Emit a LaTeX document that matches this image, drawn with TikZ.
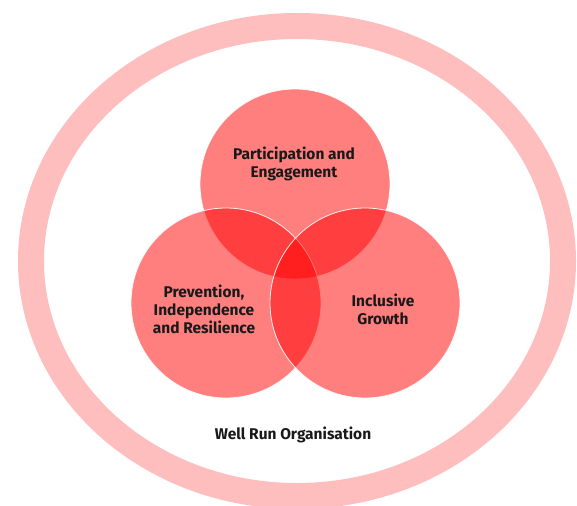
\documentclass[tikz,border=0pt]{standalone}
\usepackage{fontspec}
\setmainfont{Fira Sans}
\definecolor{ringpink}{RGB}{255,190,190}
\definecolor{vred}{RGB}{255,0,0}
\begin{document}
\begin{tikzpicture}[x=1pt,y=-1pt,
  ring/.style={draw=ringpink,line width=26pt},
  venn/.style={circle,minimum size=190pt,inner sep=0pt,fill=vred,fill opacity=0.5,draw=white,draw opacity=0.9,line width=0.8pt},
  lbl/.style={font=\bfseries\fontsize{15.5}{18}\selectfont,align=center,text=black!90}]
\useasboundingbox (0,0) rectangle (577,505);
\fill[white] (0,0) rectangle (577,505);
\draw[ring] (297,261) ellipse [x radius=266, y radius=235];
\node[venn] (top) at (295,184) {};
\node[venn] (left) at (226,303) {};
\node[venn] (right) at (365,303) {};
\node[lbl] (ttop) at (294,164) {Participation and\\Engagement};
\node[lbl] (tleft) at (204,309) {Prevention,\\Independence\\and Resilience};
\node[lbl] (tright) at (383,309) {Inclusive\\Growth};
\node[lbl] (torg) at (293,435) {Well Run Organisation};
\end{tikzpicture}
\end{document}
